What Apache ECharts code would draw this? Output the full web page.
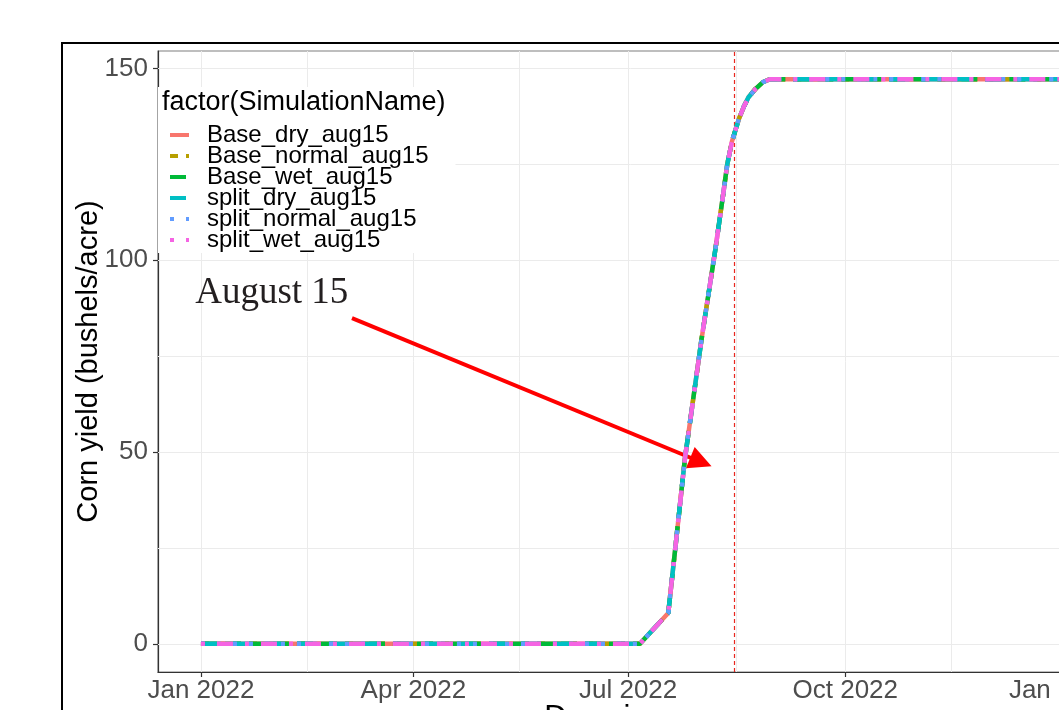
<!DOCTYPE html>
<html>
<head>
<meta charset="utf-8">
<script src="https://cdn.jsdelivr.net/npm/echarts@6/dist/echarts.min.js"></script>
<style>
html,body{margin:0;padding:0;background:#fff;overflow:hidden;}
#main{width:1200px;height:780px;}
</style>
</head>
<body>
<div id="main"></div>
<script>
// ---------- data ----------
const dates = ['2022-01-01','2022-07-06','2022-07-18','2022-07-21','2022-07-25','2022-08-01',
               '2022-08-07','2022-08-10','2022-08-12','2022-08-14','2022-08-17','2022-08-19',
               '2022-08-21','2022-08-24','2022-08-27','2022-08-30','2022-12-31'];
const Base_dry_aug15     = [0,0,8,25,48,79,103,116,125,131,137,140,142.5,144.7,146.4,147.2,147.2];
const Base_normal_aug15  = [0,0,8,25,48,79,103,116,125,131,137,140,142.5,144.7,146.4,147.2,147.2];
const Base_wet_aug15     = [0,0,8,25,48,79,103,116,125,131,137,140,142.5,144.7,146.4,147.2,147.2];
const split_dry_aug15    = [0,0,8,25,48,79,103,116,125,131,137,140,142.5,144.7,146.4,147.2,147.2];
const split_normal_aug15 = [0,0,8,25,48,79,103,116,125,131,137,140,142.5,144.7,146.4,147.2,147.2];
const split_wet_aug15    = [0,0,8,25,48,79,103,116,125,131,137,140,142.5,144.7,146.4,147.2,147.2];

const seriesNames = ['Base_dry_aug15','Base_normal_aug15','Base_wet_aug15','split_dry_aug15','split_normal_aug15','split_wet_aug15'];
const seriesValues = [Base_dry_aug15,Base_normal_aug15,Base_wet_aug15,split_dry_aug15,split_normal_aug15,split_wet_aug15];

const yTicks = [0, 50, 100, 150];
const yMinorTicks = [25, 75, 125];
const xTickDates = ['2022-01-01','2022-04-01','2022-07-01','2022-10-01','2023-01-01'];
const xTickLabels = ['Jan 2022','Apr 2022','Jul 2022','Oct 2022','Jan 2023'];
const xMinorDates = ['2022-02-15','2022-05-16','2022-08-16','2022-11-15'];

const markerDate = '2022-08-15';
const annotationText = 'August 15';
const annotationPos = ['2022-01-31', 91.5];
const arrowStart = ['2022-03-06', 84.9];
const arrowEnd = ['2022-07-31T20:00:00', 47.4];

// ---------- styles ----------
const colors = ['#F8766D','#B79F00','#00BA38','#00BFC4','#619CFF','#F564E3'];
const dashes = ['solid',[8,8],[16,8],[16,16],[4,12],[4,12,16,12]];

const ts = s => +echarts.time.parse(s);
const xDataMin = ts(dates[0]), xDataMax = ts(dates[dates.length-1]);
const xPad = (xDataMax - xDataMin) * 0.05;
const allVals = seriesValues.flat();
const yDataMin = Math.min(...allVals), yDataMax = Math.max(...allVals);
const yPad = (yDataMax - yDataMin) * 0.05;

const xTickTs = xTickDates.map(ts);
const font = 'Liberation Sans, Arial, sans-serif';

const lineSeries = seriesNames.map((n, i) => ({
  name: n,
  type: 'line',
  symbol: 'none',
  z: 5,
  data: dates.map((d, k) => [ts(d), seriesValues[i][k]]),
  lineStyle: { color: colors[i], width: 4.5, type: dashes[i], cap: 'butt' },
  itemStyle: { color: colors[i] },
  emphasis: { disabled: true }
}));

const gridLineStyle = { color: '#ebebeb', width: 1, type: 'solid' };

const option = {
  animation: false,
  backgroundColor: '#ffffff',
  title: {
    text: 'factor(SimulationName)',
    left: 162, top: 89, padding: 0, z: 8,
    textStyle: { fontFamily: font, fontSize: 27, fontWeight: 'normal', color: '#000' }
  },
  legend: {
    data: seriesNames,
    orient: 'vertical',
    left: 158, top: 87,
    padding: [36, 27, 1, 10],
    backgroundColor: '#ffffff',
    z: 4,
    itemGap: -3,
    itemWidth: 19, itemHeight: 19,
    itemStyle: { opacity: 0 },
    lineStyle: { width: 4 },
    textStyle: { fontFamily: font, fontSize: 24, color: '#000', padding: [0,0,0,13] },
    selectedMode: false
  },
  grid: {
    left: 158, top: 51, width: 945, height: 621,
    show: true, borderColor: '#7f7f7f', borderWidth: 1.2, backgroundColor: 'transparent'
  },
  xAxis: {
    type: 'value',
    min: xDataMin - xPad, max: xDataMax + xPad,
    name: 'Days in year',
    nameLocation: 'middle', nameGap: 31, nameMoveOverlap: false,
    nameTextStyle: { fontFamily: font, fontSize: 31, color: '#000', verticalAlign: 'top' },
    axisLine: { show: true, onZero: false, lineStyle: { color: '#333', width: 1.2 } },
    axisTick: { show: true, customValues: xTickTs, length: 5, lineStyle: { color: '#333', width: 1.2 } },
    axisLabel: {
      customValues: xTickTs, margin: 6, hideOverlap: false, showMinLabel: true, showMaxLabel: true,
      fontFamily: font, fontSize: 26, color: '#4d4d4d',
      formatter: v => { const i = xTickTs.indexOf(+v); return i >= 0 ? xTickLabels[i] : ''; }
    },
    splitLine: { show: false },
    minorSplitLine: { show: false }
  },
  yAxis: {
    type: 'value',
    min: yDataMin - yPad, max: yDataMax + yPad,
    name: 'Corn yield (bushels/acre)',
    nameLocation: 'middle', nameGap: 55, nameMoveOverlap: false,
    nameTextStyle: { fontFamily: font, fontSize: 29, color: '#000' },
    axisLine: { show: true, onZero: false, lineStyle: { color: '#333', width: 1.2 } },
    axisTick: { show: true, customValues: yTicks, length: 5, lineStyle: { color: '#333', width: 1.2 } },
    axisLabel: { customValues: yTicks, margin: 10, fontFamily: font, fontSize: 26, color: '#4d4d4d' },
    splitLine: { show: false }
  },
  graphic: [{
    type: 'rect', silent: true, z: 100,
    shape: { x: 62, y: 43, width: 1400, height: 1000 },
    style: { fill: 'none', stroke: '#000', lineWidth: 2 }
  }],
  series: [
    {
      name: 'gridlines', type: 'line', data: [], z: 1, silent: true,
      markLine: {
        z: 1, silent: true, symbol: 'none', animation: false,
        label: { show: false },
        lineStyle: gridLineStyle,
        data: [
          ...yMinorTicks.map(v => ({ yAxis: v })),
          ...yTicks.map(v => ({ yAxis: v })),
          ...xMinorDates.map(d => ({ xAxis: ts(d) })),
          ...xTickDates.map(d => ({ xAxis: ts(d) }))
        ]
      }
    },
    {
      name: 'annotations', type: 'line', data: [], z: 3, silent: true,
      markLine: {
        z: 3, silent: true, animation: false,
        label: { show: false },
        symbol: 'none',
        data: [
          { xAxis: ts(markerDate), lineStyle: { color: '#e8261e', width: 1.2, type: [4, 3] } },
          [
            { coord: [ts(arrowStart[0]), arrowStart[1]], symbol: 'none',
              lineStyle: { color: '#ff0000', width: 4, type: 'solid' } },
            { coord: [ts(arrowEnd[0]), arrowEnd[1]], symbol: 'triangle', symbolSize: 23 }
          ]
        ]
      },
      markPoint: {
        z: 6, silent: true, animation: false,
        symbol: 'rect', symbolSize: 1,
        itemStyle: { color: 'rgba(0,0,0,0)' },
        label: {
          show: true, position: 'inside', formatter: annotationText,
          fontFamily: 'Liberation Serif, Times New Roman, serif', fontSize: 37, color: '#231f20'
        },
        data: [{ coord: [ts(annotationPos[0]), annotationPos[1]] }]
      }
    },
    ...lineSeries
  ]
};

const chart = echarts.init(document.getElementById('main'), null, { renderer: 'canvas' });
chart.setOption(option);
</script>
</body>
</html>
